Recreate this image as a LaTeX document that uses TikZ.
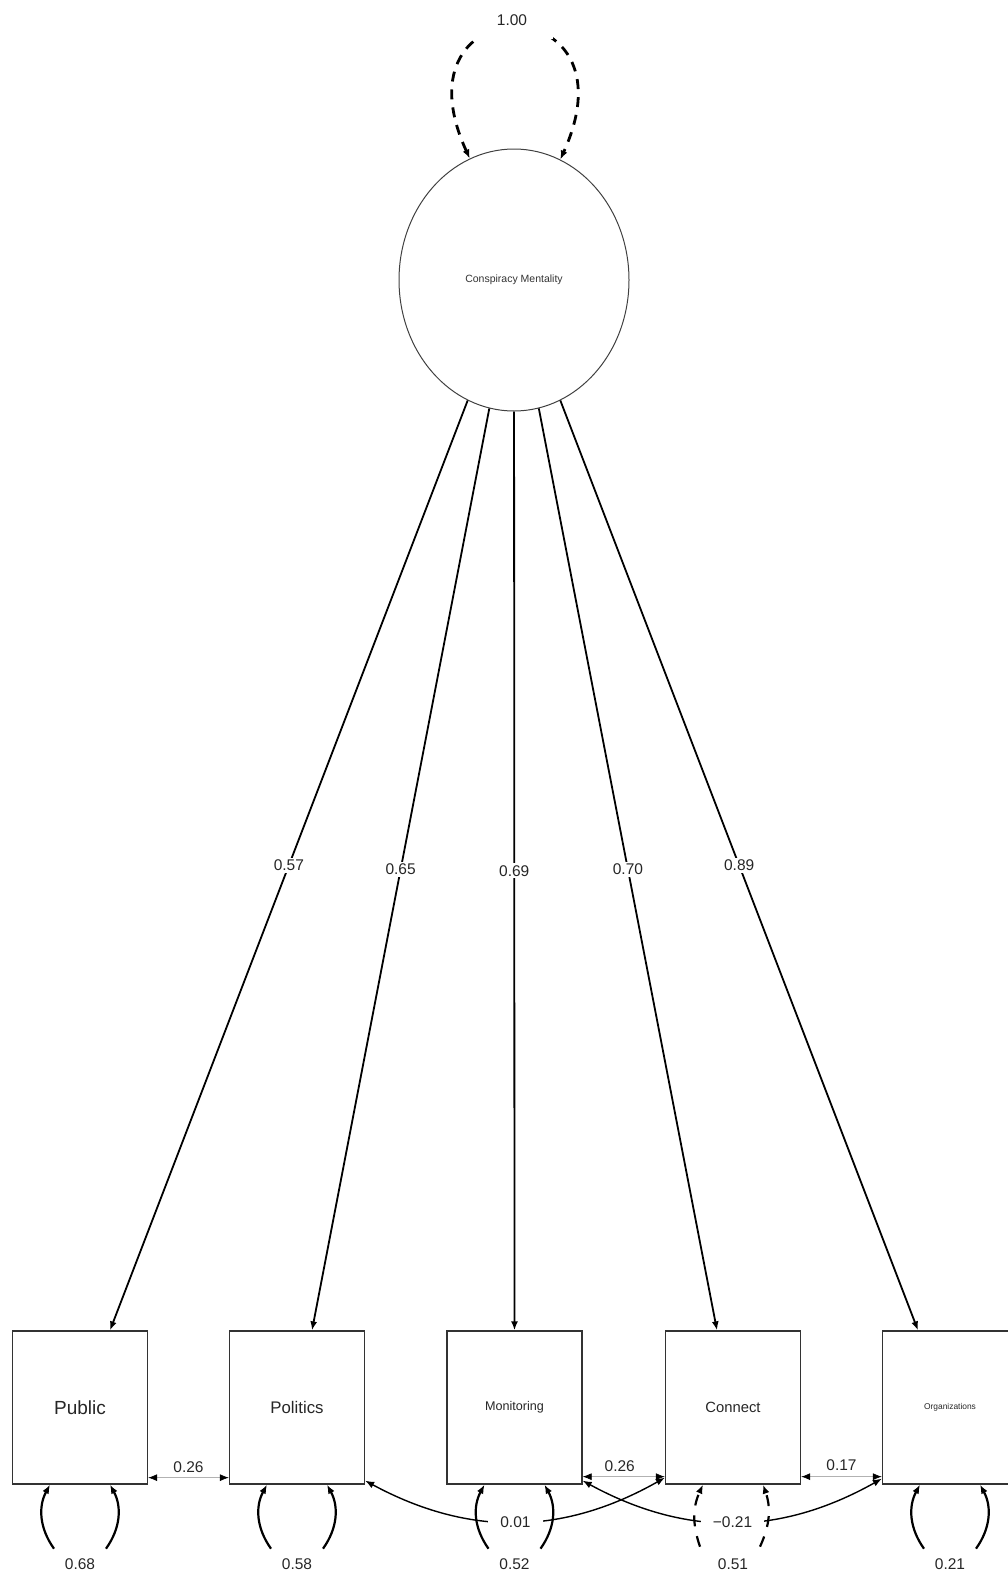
\documentclass[tikz,border=0pt]{standalone}
\usepackage{fontspec}
\setmainfont{Liberation Sans}
\usetikzlibrary{arrows.meta,shapes.geometric,calc}
\begin{document}
\begin{tikzpicture}[x=1pt,y=-1pt,
  tipL/.tip={Latex[length=9pt,width=7pt,color=black]},
  obs/.style={draw=black!80,line width=1.3pt,minimum width=135pt,minimum height=153pt,inner sep=0pt,text=black!85},
  load/.style={line width=1.8pt,-tipL},
  lab/.style={fill=white,inner sep=2pt,font=\fontsize{15.5}{17}\selectfont,text=black!85},
  resid/.style={line width=2.2pt,-tipL},
  scov/.style={line width=0.7pt,draw=black!30,tipL-tipL},
  ccov/.style={line width=1.4pt,tipL-tipL},
  varloop/.style={line width=2.8pt,dash pattern=on 10pt off 8pt,tipL-tipL}
]
\useasboundingbox (0,0) rectangle (1008,1572);

% latent
\node[ellipse,draw=black!75,line width=1pt,minimum width=230pt,minimum height=262pt,inner sep=0pt,
      font=\fontsize{10.5}{12}\selectfont,text=black!80] (cm) at (514,280) {Conspiracy Mentality};

% observed
\node[obs,font=\fontsize{19}{21}\selectfont] (pub) at (80,1407.5) {Public};
\node[obs,font=\fontsize{16.8}{19}\selectfont] (pol) at (297,1407.5) {Politics};
\node[obs,font=\fontsize{12.6}{14}\selectfont] (mon) at (514.5,1407.5) {Monitoring};
\node[obs,font=\fontsize{14.8}{17}\selectfont] (con) at (733,1407.5) {Connect};
\node[obs,font=\fontsize{8.4}{10}\selectfont] (org) at (950,1407.5) {Organizations};

% latent variance
\draw[varloop] (cm.110) .. controls (390,-15) and (640,-15) .. (cm.69);
\node[lab,inner xsep=26pt,inner ysep=14pt] (v) at (512,20) {1.00};

% loadings
\draw[load] (cm) -- ([xshift=30pt]pub.north) node[lab,midway] {0.57};
\draw[load] (cm) -- ([xshift=15pt]pol.north) node[lab,midway] {0.65};
\draw[load] (cm) -- (mon.north) node[lab,midway] {0.69};
\draw[load] (cm) -- ([xshift=-16pt]con.north) node[lab,midway] {0.70};
\draw[load] (cm) -- ([xshift=-32pt]org.north) node[lab,midway] {0.89};

% straight covariances
\draw[scov] ([yshift=7pt]pub.south east) -- node[lab,above=3pt,fill=none] {0.26} ([yshift=7pt]pol.south west);
\draw[scov] ([yshift=8pt]mon.south east) -- node[lab,above=3pt,fill=none,xshift=-4pt] {0.26} ([yshift=8pt]con.south west);
\draw[scov] ([yshift=8pt]con.south east) -- node[lab,above=4pt,fill=none] {0.17} ([yshift=8pt]org.south west);

% curved covariances
\draw[ccov] ([yshift=4pt]pol.south east) to[bend right=29] node[lab,inner xsep=12pt] {0.01} ([yshift=7pt]con.south west);
\draw[ccov] ([yshift=4pt]mon.south east) to[bend right=29] node[lab,inner xsep=12pt] {−0.21} ([yshift=6pt]org.south west);

% residual variances
\foreach \n/\v in {pub/0.68, pol/0.58, mon/0.52, org/0.21}{
  \coordinate (\n-l) at ([xshift=-26pt,yshift=-64pt]\n.south);
  \coordinate (\n-r) at ([xshift=26pt,yshift=-64pt]\n.south);
  \draw[resid] (\n-l) to[bend left=32] ([xshift=-30pt]\n.south);
  \draw[resid] (\n-r) to[bend right=32] ([xshift=30pt]\n.south);
  \node[lab,fill=none] (\n-v) at ([yshift=-79pt]\n.south) {\v};
}
\coordinate (con-l) at ([xshift=-33pt,yshift=-62pt]con.south);
\coordinate (con-r) at ([xshift=27pt,yshift=-62pt]con.south);
\draw[resid,dash pattern=on 11pt off 10pt] (con-l) to[bend left=22] ([xshift=-30pt]con.south);
\draw[resid,dash pattern=on 11pt off 10pt] (con-r) to[bend right=22] ([xshift=30pt]con.south);
\node[lab,fill=none] (con-v) at ([yshift=-79pt]con.south) {0.51};
\end{tikzpicture}
\end{document}
